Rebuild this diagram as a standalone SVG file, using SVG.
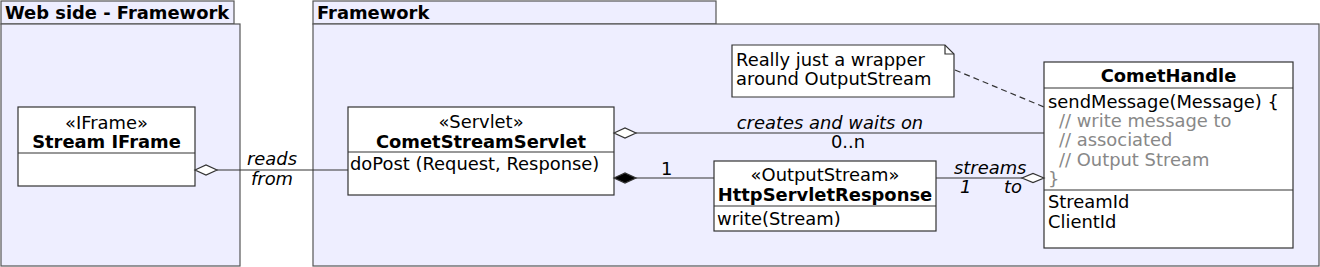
<svg xmlns="http://www.w3.org/2000/svg" width="1320" height="267" viewBox="0 0 1320 267">
<defs>
<style>
text{font-family:"DejaVu Sans",sans-serif;font-size:17.9px;fill:#000}
.b{font-weight:bold}
.i{font-style:italic}
.g{fill:#888}
.m{text-anchor:middle}
.pkg{fill:#eeeeff;stroke:#555;stroke-width:1.2}
.cls{fill:#fff;stroke:#333;stroke-width:1.2}
.ln{stroke:#333;stroke-width:1.2;fill:none}
</style>
</defs>
<g id="pkg-web">
<rect class="pkg" x="1" y="1" width="233" height="23"/>
<rect class="pkg" x="1" y="24" width="239" height="242"/>
<text class="b" x="5" y="19">Web side - Framework</text>
</g>
<g id="pkg-framework">
<rect class="pkg" x="313" y="1" width="403" height="23"/>
<rect class="pkg" x="313" y="24" width="1006" height="242"/>
<text class="b" x="317" y="19">Framework</text>
</g>
<g id="stream-iframe">
<rect class="cls" x="18" y="107" width="177" height="79"/>
<line class="ln" x1="18" y1="153" x2="195" y2="153"/>
<text class="m" x="106.5" y="129">«IFrame»</text>
<text class="m b" x="106.5" y="148">Stream IFrame</text>
</g>
<g id="comet-stream-servlet">
<rect class="cls" x="348" y="107" width="266" height="88"/>
<line class="ln" x1="348" y1="152" x2="614" y2="152"/>
<text class="m" x="481" y="128">«Servlet»</text>
<text class="m b" x="481" y="148">CometStreamServlet</text>
<text x="350" y="170">doPost (Request, Response)</text>
</g>
<g id="http-servlet-response">
<rect class="cls" x="714" y="161" width="222" height="70"/>
<line class="ln" x1="714" y1="206" x2="936" y2="206"/>
<text class="m" x="825" y="181">«OutputStream»</text>
<text class="m b" x="825" y="201">HttpServletResponse</text>
<text x="717" y="225">write(Stream)</text>
</g>
<g id="note">
<path class="cls" d="M732,45 H945 L954,54 V97 H732 Z"/>
<path class="ln" d="M945,45 V54 H954"/>
<text x="736" y="66">Really just a wrapper</text>
<text x="736" y="85">around OutputStream</text>
</g>
<g id="comet-handle">
<rect class="cls" x="1044" y="62" width="249" height="186"/>
<line class="ln" x1="1044" y1="88" x2="1293" y2="88"/>
<line class="ln" x1="1044" y1="190" x2="1293" y2="190"/>
<text class="m b" x="1168.5" y="82">CometHandle</text>
<text x="1048" y="108">sendMessage(Message) {</text>
<text class="g" x="1059" y="127">// write message to</text>
<text class="g" x="1059" y="146">// associated</text>
<text class="g" x="1059" y="166">// Output Stream</text>
<text class="g" x="1048" y="185">}</text>
<text x="1048" y="208">StreamId</text>
<text x="1048" y="228">ClientId</text>
</g>
<g id="connectors">
<line class="ln" x1="217" y1="170" x2="348" y2="170"/>
<path class="ln" d="M195,170 L206,165 L217,170 L206,175 Z" style="fill:#fff"/>
<text class="i m" x="272" y="165">reads</text>
<text class="i m" x="272" y="185">from</text>
<line class="ln" x1="636" y1="133" x2="1044" y2="133"/>
<path class="ln" d="M614,133 L625,128 L636,133 L625,138 Z" style="fill:#fff"/>
<text class="i m" x="830" y="129">creates and waits on</text>
<text class="m" x="848" y="148">0..n</text>
<line class="ln" x1="636" y1="178" x2="714" y2="178"/>
<path class="ln" d="M614,178 L625,173 L636,178 L625,183 Z" style="fill:#000"/>
<text x="661" y="175">1</text>
<line class="ln" x1="936" y1="178" x2="1022" y2="178"/>
<path class="ln" d="M1044,178 L1033,173.5 L1022,178 L1033,182.5 Z" style="fill:#fff"/>
<text class="i" x="954" y="174">streams</text>
<text class="i" x="960" y="193">1</text>
<text class="i" x="1004" y="193">to</text>
<line class="ln" x1="955" y1="70" x2="1044" y2="107" stroke-dasharray="6,4"/>
</g>
</svg>
